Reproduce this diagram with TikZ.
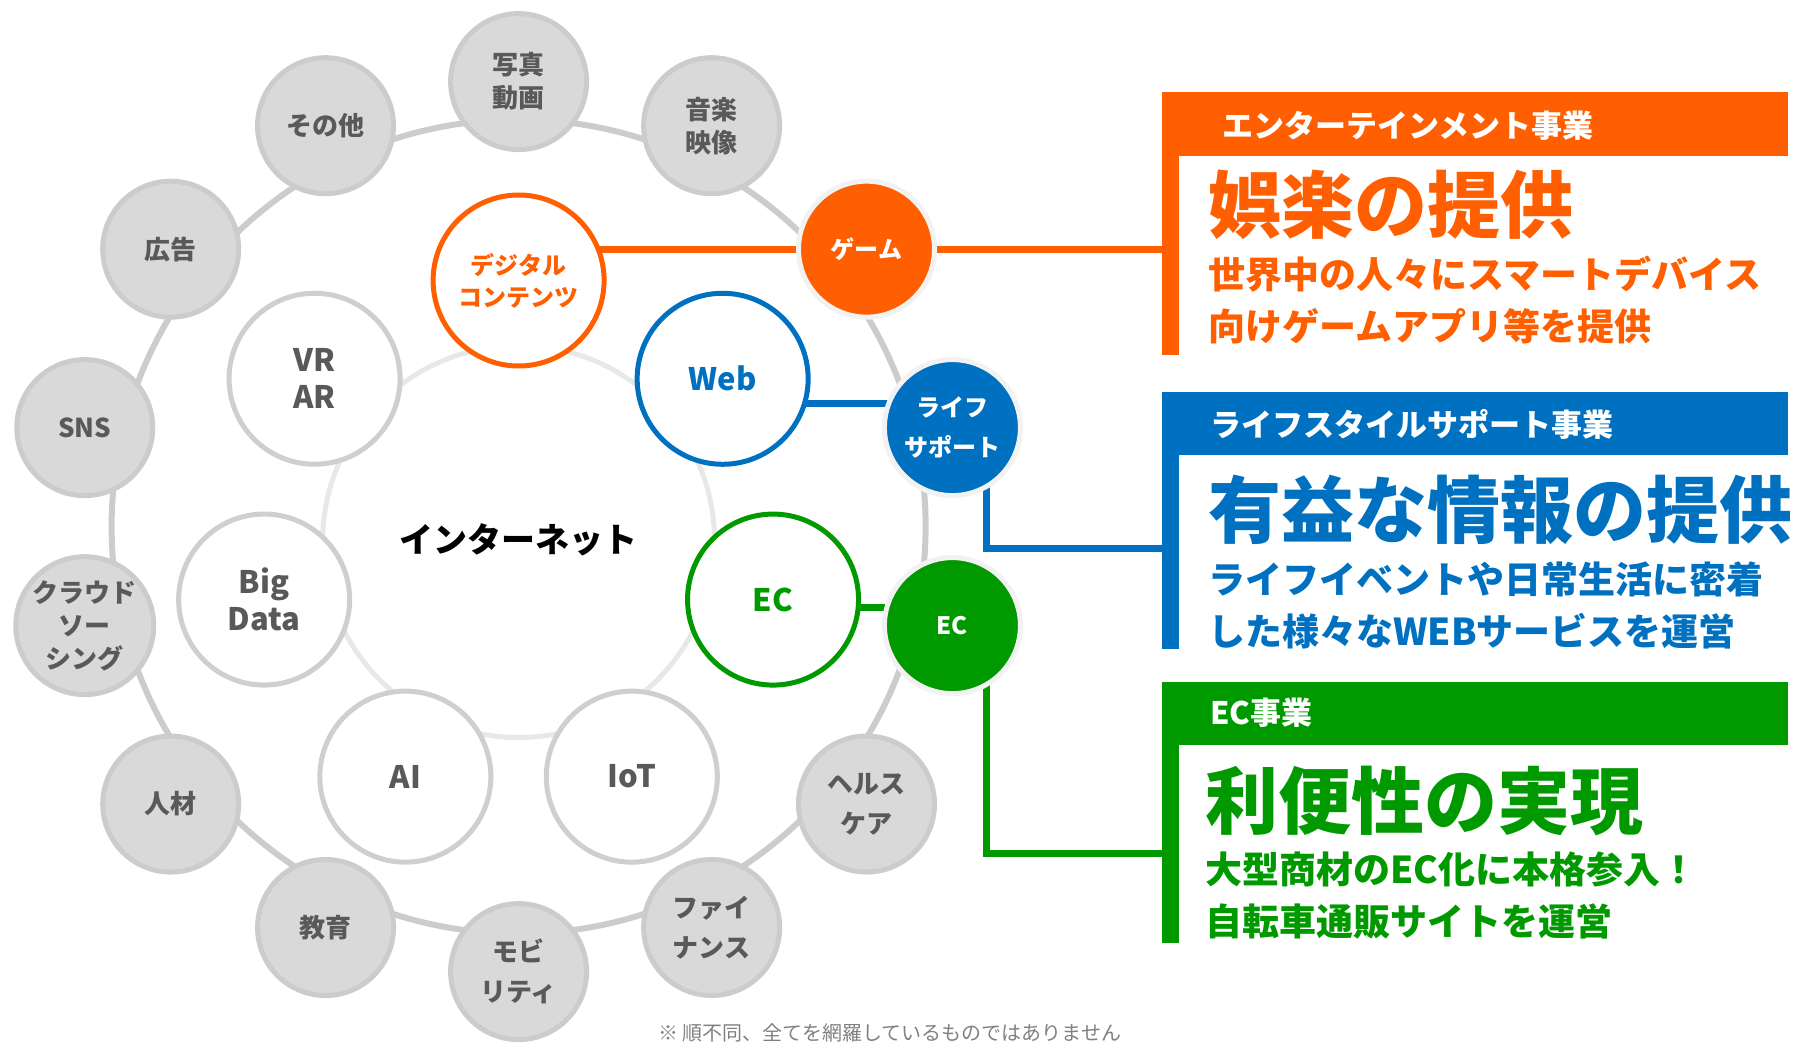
\documentclass[tikz,border=0pt]{standalone}
\usepackage{fontspec}
\setmainfont{Noto Sans CJK JP}
\usetikzlibrary{calc,backgrounds}

\definecolor{entorange}{HTML}{FF5F00}
\definecolor{lifeblue}{HTML}{0070C0}
\definecolor{ecgreen}{HTML}{009900}
\definecolor{ringgray}{HTML}{CCCCCC}
\definecolor{nodegray}{HTML}{D9D9D9}
\definecolor{textgray}{HTML}{595959}

\begin{document}
\begin{tikzpicture}[x=1pt,y=-1pt,
  outnode/.style={circle,draw=ringgray,line width=5pt,fill=nodegray,minimum size=136pt,inner sep=0pt,align=center,text=textgray,font=\bfseries\fontsize{26}{33}\selectfont},
  hotnode/.style={outnode,draw=black!5,fill=#1,text=white,font=\bfseries\fontsize{24}{40}\selectfont},
  innode/.style={circle,draw=#1,line width=5pt,fill=white,minimum size=171pt,inner sep=0pt,align=center,text=#1,font=\bfseries\fontsize{31}{37}\selectfont},
  link/.style={line width=7pt,draw=#1},
  bizbar/.style={fill=#1,inner sep=0pt,anchor=north west},
  headtxt/.style={anchor=west,inner sep=0pt,text=white,font=\bfseries\fontsize{31}{36}\selectfont},
  bigtxt/.style={anchor=west,inner sep=0pt,text=#1,font=\bfseries\fontsize{73}{80}\selectfont},
  subtxt/.style={anchor=west,inner sep=0pt,align=left,text=#1,font=\bfseries\fontsize{37}{52}\selectfont}]

\useasboundingbox (0,0) rectangle (1795,1043);

\coordinate (oc) at (518.6,526.6);
\coordinate (ic) at (518.6,541.5);
\draw[ringgray,line width=6pt] (oc) circle (407pt);
\draw[black!9,line width=5pt] (ic) circle (196pt);

% outer ring
\foreach \k/\nm/\lbl in {0/photo/{写真\\動画},1/music/{音楽\\映像},5/health/{ヘルス\\[7pt]ケア},6/fin/{ファイ\\[7pt]ナンス},7/mob/{モビ\\[7pt]リティ},8/edu/教育,9/hr/人材,10/crowd/{クラウド\\ソー\\シング},11/sns/SNS,12/ad/広告,13/other/その他}
  \node[outnode] (\nm) at ($(oc)+(25.714*\k-90:445)$) {\lbl};
\node[hotnode=entorange] (game) at ($(oc)+(25.714*2-90:445)$) {ゲーム};
\node[hotnode=lifeblue] (life) at ($(oc)+(25.714*3-90:445)$) {ライフ\\サポート};
\node[hotnode=ecgreen] (ecout) at ($(oc)+(25.714*4-90:445)$) {EC};

% inner ring
\node[innode=entorange,font=\bfseries\fontsize{24}{32}\selectfont] (dig) at ($(ic)+(-90:261)$) {デジタル\\コンテンツ};
\node[innode=lifeblue] (web) at ($(ic)+(51.43-90:261)$) {Web};
\node[innode=ecgreen] (ecin) at ($(ic)+(2*51.43-90:261)$) {EC};
\foreach \k/\nm/\lbl in {3/iot/IoT,4/ai/AI,5/bigdata/{Big\\Data},6/vrar/{VR\\AR}}
  \node[innode=black!19,text=textgray] (\nm) at ($(ic)+(51.43*\k-90:261)$) {\lbl};
\node[font=\bfseries\fontsize{34}{40}\selectfont] (net) at (518.6,540) {インターネット};

% business boxes
\node[bizbar=entorange,minimum width=626pt,minimum height=64pt] (ohead) at (1162,92) {};
\node[bizbar=entorange,minimum width=17pt,minimum height=263pt] (obar) at (1162,92) {};
\node[bizbar=lifeblue,minimum width=626pt,minimum height=63pt] (bhead) at (1162,392) {};
\node[bizbar=lifeblue,minimum width=17pt,minimum height=257pt] (bbar) at (1162,392) {};
\node[bizbar=ecgreen,minimum width=626pt,minimum height=63pt] (ghead) at (1162,682) {};
\node[bizbar=ecgreen,minimum width=17pt,minimum height=261pt] (gbar) at (1162,682) {};

\node[headtxt] (ottl) at (1222,126) {エンターテインメント事業};
\node[bigtxt=entorange] (omain) at (1208,205) {娯楽の提供};
\node[subtxt=entorange] (osub) at (1208,300) {世界中の人々にスマートデバイス\\向けゲームアプリ等を提供};

\node[headtxt] (bttl) at (1210,424) {ライフスタイルサポート事業};
\node[bigtxt=lifeblue] (bmain) at (1208,510) {有益な情報の提供};
\node[subtxt=lifeblue] (bsub) at (1208,605) {ライフイベントや日常生活に密着\\した様々なWEBサービスを運営};

\node[headtxt] (gttl) at (1210,713) {EC事業};
\node[bigtxt=ecgreen] (gmain) at (1205,801) {利便性の実現};
\node[subtxt=ecgreen] (gsub) at (1205,896) {大型商材のEC化に本格参入！\\自転車通販サイトを運営};

\node[anchor=west,inner sep=0pt,text=black!50,font=\fontsize{20}{24}\selectfont] (note) at (658,1033) {※ 順不同、全てを網羅しているものではありません};

\coordinate (bjoin) at (1162,548);
\coordinate (gjoin) at (1162,853);
\begin{scope}[on background layer]
  \draw[link=entorange] (dig |- game) -- (game -| obar.west);
  \path ($(web)!.5!(life)$) coordinate (wl);
  \draw[link=lifeblue] (web |- wl) -- (life |- wl);
  \draw[link=lifeblue] ([xshift=34pt]life.center) |- (bjoin);
  \path ($(ecin)!.3!(ecout)$) coordinate (ee);
  \draw[link=ecgreen] (ecin |- ee) -- (ecout |- ee);
  \draw[link=ecgreen] ([xshift=34pt]ecout.center) |- (gjoin);
\end{scope}
\end{tikzpicture}
\end{document}
